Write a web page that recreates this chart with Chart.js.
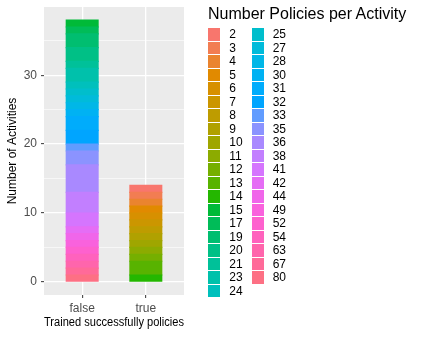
<!DOCTYPE html>
<html><head><meta charset="utf-8">
<script src="https://cdn.jsdelivr.net/npm/chart.js@4/dist/chart.umd.min.js"></script>
<style>
html,body{margin:0;padding:0;background:#fff;}
#wrap{position:relative;width:423px;height:339px;overflow:hidden;font-family:'Liberation Sans',Arial,sans-serif;}
canvas{position:absolute;left:0;top:0;}
.lt{position:absolute;left:208px;top:5.5px;font-size:16px;line-height:16px;color:#000;white-space:nowrap;}
.key{position:absolute;width:12px;height:12.6px;}
.lab{position:absolute;font-size:12px;line-height:13.5px;color:#000;white-space:nowrap;}
</style></head>
<body><div id="wrap"><canvas id="c" width="423" height="339"></canvas><div id="legend"></div></div>
<script>
// ---- data ----
const categories = ['false', 'true'];
const levels = ['2','3','4','5','6','7','8','9','10','11','12','13','14','15','17','19','20','21','23','24',
                '25','27','28','30','31','32','33','35','36','38','41','42','44','49','52','54','63','67','80'];
const falseCounts = [0,0,0,0,0,0,0,0,0,0,0,0,0,1,1,2,2,1,2,1,
                     1,1,1,1,2,2,1,2,4,3,2,1,1,1,1,1,1,1,1];
const trueCounts  = [1,1,1,1,1,1,1,1,1,1,1,2,1,0,0,0,0,0,0,0,
                     0,0,0,0,0,0,0,0,0,0,0,0,0,0,0,0,0,0,0];
const yMajorTicks = [0, 10, 20, 30];
const yMinorTicks = [5, 15, 25, 35];
const legendTitle = 'Number Policies per Activity';
const xTitle = 'Trained successfully policies';
const yTitle = 'Number of Activities';

// ggplot2 default hue palette (hcl, c=100, l=65)
function hcl2hex(h, c, l) {
  const hr = h * Math.PI / 180;
  const u = c * Math.cos(hr), v = c * Math.sin(hr);
  const Xn = 0.95047, Yn = 1.0, Zn = 1.08883;
  const den = Xn + 15 * Yn + 3 * Zn;
  const un = 4 * Xn / den, vn = 9 * Yn / den;
  const Y = l > 8 ? Yn * Math.pow((l + 16) / 116, 3) : Yn * l / 903.3;
  const up = u / (13 * l) + un, vp = v / (13 * l) + vn;
  const X = Y * 9 * up / (4 * vp);
  const Z = Y * (12 - 3 * up - 20 * vp) / (4 * vp);
  let r = 3.2404542 * X - 1.5371385 * Y - 0.4985314 * Z;
  let g = -0.9692660 * X + 1.8760108 * Y + 0.0415560 * Z;
  let b = 0.0556434 * X - 0.2040259 * Y + 1.0572252 * Z;
  const gam = t => { t = t <= 0.0031308 ? 12.92 * t : 1.055 * Math.pow(t, 1 / 2.4) - 0.055; return Math.round(Math.min(1, Math.max(0, t)) * 255); };
  return '#' + [gam(r), gam(g), gam(b)].map(n => n.toString(16).padStart(2, '0')).join('');
}
const n = levels.length;
const colors = levels.map((_, i) => hcl2hex((15 + 360 * i / n) % 360, 100, 65));

// ---- datasets (first level on top of stack, like ggplot) ----
const datasets = [];
for (let k = n - 1; k >= 0; k--) {
  const pts = [];
  if (falseCounts[k] > 0) pts.push({x: 1, y: falseCounts[k]});
  if (trueCounts[k] > 0) pts.push({x: 2, y: trueCounts[k]});
  datasets.push({
    label: levels[k], data: pts, backgroundColor: colors[k],
    borderWidth: 0, inflateAmount: 0.6,
    barPercentage: 0.5, categoryPercentage: 1
  });
}

Chart.defaults.font.family = "'Liberation Sans', Arial, sans-serif";
const panelBg = {
  id: 'panelBg',
  beforeDraw(chart) {
    const {ctx, chartArea: a} = chart;
    ctx.save(); ctx.fillStyle = '#EBEBEB';
    ctx.fillRect(a.left, a.top, a.right - a.left, a.bottom - a.top);
    ctx.restore();
  }
};
const isMajor = c => c.tick && yMajorTicks.includes(c.tick.value);

new Chart(document.getElementById('c'), {
  type: 'bar',
  data: {datasets},
  plugins: [panelBg],
  options: {
    responsive: false, animation: false,
    layout: {padding: {left: 0, top: 7, right: 239, bottom: 0}},
    plugins: {legend: {display: false}, tooltip: {enabled: false}},
    scales: {
      x: {
        type: 'linear', min: 0.4, max: 2.6, stacked: true, offset: false,
        afterBuildTicks: s => { s.ticks = categories.map((c, i) => ({value: i + 1})); },
        afterFit: s => { s.height = 44; s.paddingLeft = 0; s.paddingRight = 0; },
        ticks: {callback: v => categories[v - 1] ?? '', color: '#4D4D4D', font: {size: 12}, padding: 3, autoSkip: false, maxRotation: 0},
        grid: {offset: false, color: '#FFFFFF', lineWidth: 1.3, tickLength: 3, tickColor: '#333333', tickWidth: 1},
        border: {display: false},
        title: {display: true, text: xTitle, color: '#000', font: {size: 12}, padding: {top: 0, bottom: 9}}
      },
      y: {
        type: 'linear', min: -1.9, max: 39.9, stacked: true,
        afterBuildTicks: s => { s.ticks = yMajorTicks.concat(yMinorTicks).sort((a, b) => a - b).map(v => ({value: v})); },
        afterFit: s => { s.width = 44; s.paddingTop = 0; s.paddingBottom = 0; },
        ticks: {callback: v => yMajorTicks.includes(v) ? String(v) : '', color: '#4D4D4D', font: {size: 12}, padding: 4, autoSkip: false},
        grid: {color: '#FFFFFF', lineWidth: c => isMajor(c) ? 1.3 : 0.6, tickLength: 3,
               tickColor: c => isMajor(c) ? '#333333' : 'rgba(0,0,0,0)', tickWidth: 1},
        border: {display: false},
        title: {display: true, text: yTitle, color: '#000', font: {size: 12}, padding: {top: 5, bottom: 0}}
      }
    }
  }
});

// ---- legend (HTML) ----
const lg = document.getElementById('legend');
const t = document.createElement('div'); t.className = 'lt'; t.textContent = legendTitle; lg.appendChild(t);
const perCol = 20;
levels.forEach((lv, i) => {
  const col = Math.floor(i / perCol), row = i % perCol;
  const top = 28.4 + 13.5 * row;
  const kx = col === 0 ? 208 : 251.7, lx = col === 0 ? 229.3 : 272.7;
  const k = document.createElement('div'); k.className = 'key';
  k.style.left = kx + 'px'; k.style.top = top + 'px'; k.style.background = colors[i];
  lg.appendChild(k);
  const l = document.createElement('div'); l.className = 'lab';
  l.style.left = lx + 'px'; l.style.top = top + 'px'; l.textContent = lv;
  lg.appendChild(l);
});
</script></body></html>
